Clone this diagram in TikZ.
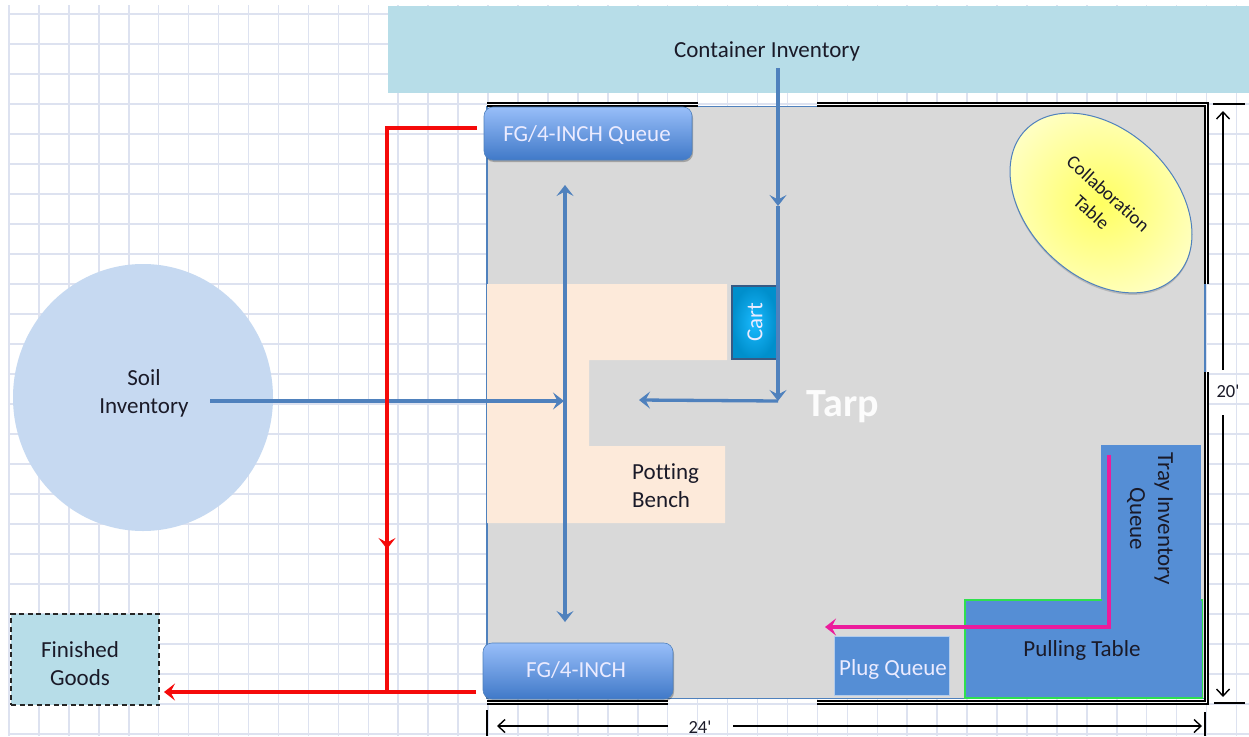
\documentclass[tikz,border=0pt]{standalone}
\usepackage{fontspec}
\setmainfont[Ligatures=NoCommon]{Carlito}
\usetikzlibrary{arrows.meta,shapes.geometric,shadows,calc}
\definecolor{gridc}{HTML}{DDE2F0}
\definecolor{bandc}{HTML}{B7DDE8}
\definecolor{roomc}{HTML}{D9D9D9}
\definecolor{flow}{HTML}{4F81BD}
\definecolor{benchc}{HTML}{FDEADA}
\definecolor{soilc}{HTML}{C6D9F1}
\definecolor{tablec}{HTML}{558ED5}
\definecolor{pinkc}{HTML}{EC1C9C}
\definecolor{greenc}{HTML}{2FE04F}
\definecolor{redc}{HTML}{F50A0A}
\definecolor{inkc}{HTML}{1A1A28}
\definecolor{queuetop}{HTML}{98BEF9}
\definecolor{queuebot}{HTML}{4079C8}
\tikzset{
  txt/.style={inner sep=0pt,align=center,text=inkc,font=\fontsize{23}{28}\selectfont},
  wtxt/.style={txt,text=white!92!blue},
  area/.style={inner sep=0pt,outer sep=0pt,draw=none,rectangle},
  queue/.style={area,rounded corners=9pt,top color=queuetop,bottom color=queuebot,
    draw=flow,line width=.6pt,drop shadow={shadow xshift=1pt,shadow yshift=-2pt,fill=black,opacity=.25}},
  flowline/.style={draw=flow,line width=3.3pt},
  redline/.style={draw=redc,line width=3.3pt},
  pinkline/.style={draw=pinkc,line width=3.5pt},
  barb/.style={-{Stealth[length=11pt,width=17pt,inset=4.5pt]}},
  dbarb/.style={{Stealth[length=11pt,width=17pt,inset=4.5pt]}-{Stealth[length=11pt,width=17pt,inset=4.5pt]}},
  wall/.style={draw=black,line width=1.7pt,double=white,double distance=1.1pt,line cap=butt},
  dim/.style={draw=black,line width=1.4pt},
  dimarrow/.style={dim,-{Straight Barb[length=7pt,width=13pt,line width=1.4pt]}}
}
\begin{document}
\begin{tikzpicture}[x=1pt,y=-1pt]
\useasboundingbox (0,0) rectangle (1249,736);
\fill[white] (0,0) rectangle (1249,736);
% grid
\foreach \i in {0,...,41} \draw[gridc,line width=1.5pt] ({9+29.94*\i},5) -- ({9+29.94*\i},736);
\foreach \j in {0,...,24} \draw[gridc,line width=1.5pt] (9,{14+30*\j}) -- (1249,{14+30*\j});
% band
\node[area,fill=bandc,minimum width=861pt,minimum height=87pt] (band) at (818.5,49.5) {};
\node[txt] (bandtxt) at (767,51) {Container Inventory};
% room
\node[area,fill=roomc,draw=flow,line width=1.2pt,minimum width=718pt,minimum height=592pt] (room) at (846,402.5) {};
% walls
\draw[wall] (487,104.5) -- (698,104.5);
\draw[wall] (817,104.5) -- (1206.5,104.5) -- (1206.5,284);
\draw[wall] (1206.5,372) -- (1206.5,702.5) -- (817,702.5);
\draw[wall] (487,702.5) -- (668,702.5);
% bench
\fill[benchc] (487,284) -- (727,284) -- (727,360) -- (589,360) -- (589,446) -- (725,446) -- (725,523) -- (487,523) -- cycle;
\node[txt,align=left,anchor=west] (bench) at (632,486) {Potting\\Bench};
% tray + pulling table
\fill[tablec] (1101,445) rectangle (1201,601);
\fill[tablec,draw=greenc,line width=1.2pt] (965,600) -- (1202.5,600) -- (1202.5,698) -- (965,698) -- cycle;
\fill[tablec] (1102,590) rectangle (1201,601.5);
\node[txt,rotate=-90] (tray) at (1150,519) {Tray Inventory\\Queue};
\node[txt] (pull) at (1082,650) {Pulling Table};
\node[area,fill=tablec,draw=white!55!tablec,line width=.6pt,minimum width=115pt,minimum height=59pt] (plug) at (891.5,665.5) {};
\node[wtxt] (plugtxt) at (893,669) {Plug Queue};
% cart
\node[area,draw=flow!70!black,line width=1.4pt,inner color=cyan!70!blue!90!white,outer color=cyan!70!blue!80!black,minimum width=45pt,minimum height=73pt] (cart) at (754.5,322.5) {};
\node[wtxt,rotate=90] (carttxt) at (755,322) {Cart};
% tarp
\node[txt,text=white!93!roomc,font=\fontsize{40}{44}\selectfont\bfseries] (tarp) at (843,407) {Tarp};
% collaboration
\node[ellipse,draw=flow,line width=1pt,inner sep=0pt,minimum width=210pt,minimum height=146pt,rotate=-44,
  inner color=yellow!62!white,outer color=yellow!24!white,
  drop shadow={shadow xshift=0pt,shadow yshift=-2pt,fill=black,opacity=.15}] (collab) at (1101,203) {};
\node[txt,rotate=-42,font=\fontsize{19}{25}\selectfont] (collabtxt) at (1100,203) {Collaboration\\Table};
% queues
\node[queue,minimum width=208pt,minimum height=53pt] (fgq) at (588,133.5) {};
\node[wtxt] (fgqtxt) at (587,135) {FG/4-INCH Queue};
\node[queue,minimum width=190pt,minimum height=56pt] (fg) at (578,671) {};
\node[wtxt] (fgtxt) at (576,670) {FG/4-INCH};
% soil
\node[ellipse,fill=soilc,inner sep=0pt,minimum width=260pt,minimum height=267pt] (soil) at (143,397.5) {};
\node[txt] (soiltxt) at (144,393) {Soil\\Inventory};
% finished goods
\node[area,fill=bandc,draw=black!85,dash pattern=on 5pt off 3.5pt,line width=1.3pt,minimum width=148pt,minimum height=91pt] (goods) at (85,659.5) {};
\node[txt] (goodstxt) at (80,664) {Finished\\Goods};
% coordinates
\coordinate (ctop) at (778,68);
\coordinate (cmid) at (778,206);
\coordinate (ccorner) at (778,401);
\coordinate (cend) at (639,400);
\coordinate (sstart) at (210,401);
\coordinate (send) at (564,401);
\coordinate (vtop) at (565,185);
\coordinate (vbot) at (565,622);
\coordinate (rtop) at (387,128);
\coordinate (rmid) at (387,549);
\coordinate (rbot) at (387,692);
\coordinate (pstart) at (1109,455);
\coordinate (pcorner) at (1109,627);
\coordinate (pend) at (825,627);
% blue flows
\draw[flowline,barb] (ctop) -- (cmid);
\draw[flowline,barb] (cmid) -- (ccorner);
\draw[flowline,barb] (ccorner) -- (cend);
\draw[flowline,barb] (sstart) -- (send);
\draw[flowline,dbarb] (vtop) -- (vbot);
% red flows
\draw[redline,line join=miter,shorten <=7pt] (fgq.west |- rtop) -- (rtop) -- (rbot);
\draw[redline,barb] (rtop) -- (rmid);
\draw[redline,barb,shorten <=7pt] (fg.west |- rbot) -- ($(goods.east |- rbot)+(5,0)$);
% pink flow
\draw[pinkline,barb,line join=miter] (pstart) -- (pcorner) -- (pend);
% dimensions
\coordinate (dt1) at (1213,104); \coordinate (dt2) at (1245,104);
\coordinate (db1) at (1214,703); \coordinate (db2) at (1245,703);
\coordinate (dv1) at (1223,370); \coordinate (dv2) at (1223,111);
\coordinate (dv3) at (1223,415); \coordinate (dv4) at (1223,697);
\coordinate (dl1) at (487,710); \coordinate (dl2) at (487,736);
\coordinate (dr1) at (1205,712); \coordinate (dr2) at (1205,736);
\coordinate (dh1) at (668,726); \coordinate (dh2) at (497,726);
\coordinate (dh3) at (733,726); \coordinate (dh4) at (1202,726);
\draw[dim] (dt1) -- (dt2);
\draw[dim] (db1) -- (db2);
\draw[dim] (dl1) -- (dl2);
\draw[dim] (dr1) -- (dr2);
\draw[dimarrow] (dv1) -- (dv2);
\draw[dimarrow] (dv3) -- (dv4);
\draw[dimarrow] (dh1) -- (dh2);
\draw[dimarrow] (dh3) -- (dh4);
\node[txt,font=\fontsize{18.5}{20}\selectfont] (h20) at (1228,391) {20\textquotesingle};
\node[txt,font=\fontsize{18.5}{20}\selectfont] (w24) at (700,727) {24\textquotesingle};
\end{tikzpicture}
\end{document}
